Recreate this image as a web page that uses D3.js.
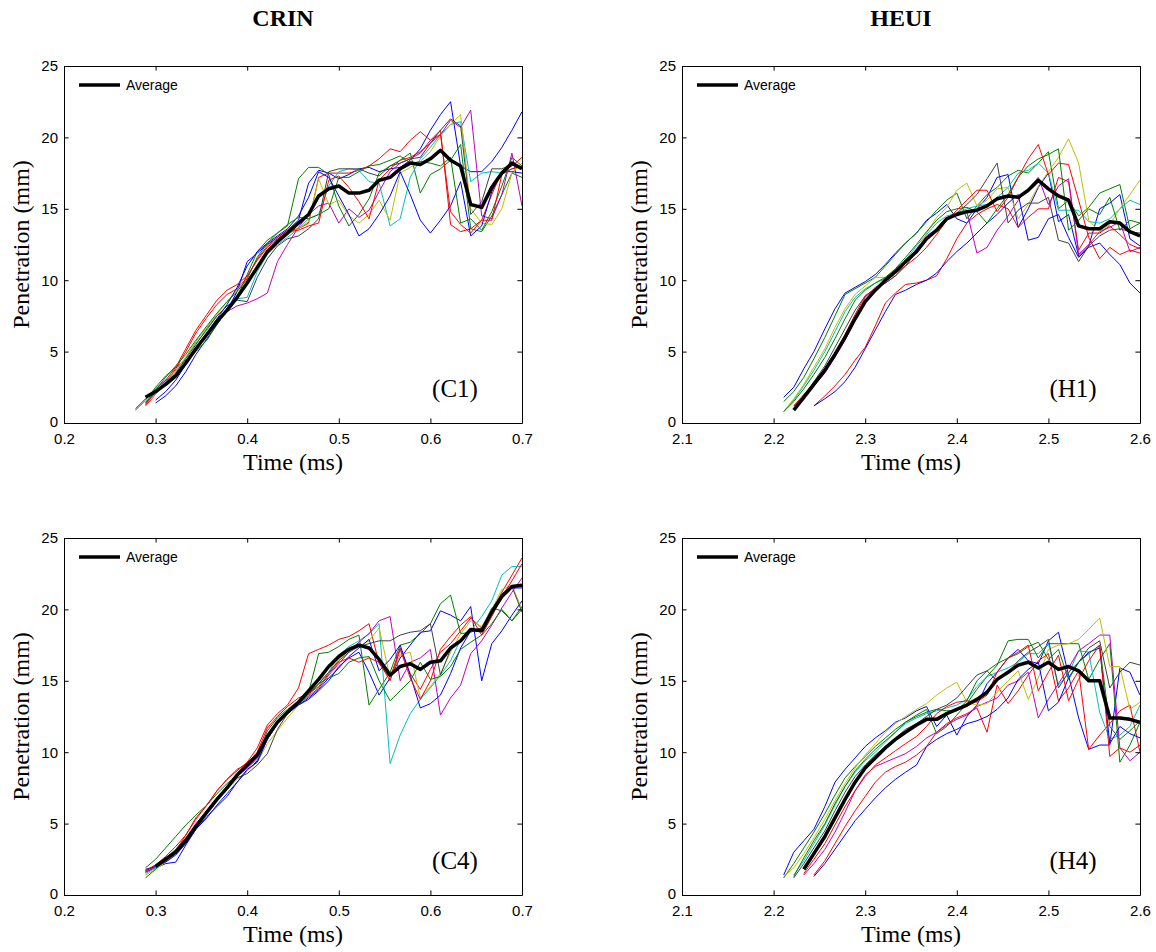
<!DOCTYPE html>
<html>
<head>
<meta charset="utf-8">
<script src="https://cdn.jsdelivr.net/npm/d3@7"></script>
<style>
body { margin: 0; background: #fff; overflow: hidden; }
</style>
</head>
<body>
<svg id="fig" width="1156" height="952"></svg>
<script>
// frame times (ms), camera at 90 kfps
var tCrin1 = [0.278,0.289,0.300,0.311,0.322,0.333,0.344,0.356,0.367,0.378,0.389,0.400,0.411,0.422,0.433,0.444,0.456,0.467,0.478,0.489,0.500,0.511,0.522,0.533,0.544,0.556,0.567,0.578,0.589,0.600,0.611,0.622,0.633,0.644,0.656,0.667,0.678,0.689,0.700];
var tCrin4 = [0.289,0.300,0.311,0.322,0.333,0.344,0.356,0.367,0.378,0.389,0.400,0.411,0.422,0.433,0.444,0.456,0.467,0.478,0.489,0.500,0.511,0.522,0.533,0.544,0.556,0.567,0.578,0.589,0.600,0.611,0.622,0.633,0.644,0.656,0.667,0.678,0.689,0.700];
var tHeui = [2.211,2.222,2.233,2.244,2.256,2.267,2.278,2.289,2.300,2.311,2.322,2.333,2.344,2.356,2.367,2.378,2.389,2.400,2.411,2.422,2.433,2.444,2.456,2.467,2.478,2.489,2.500,2.511,2.522,2.533,2.544,2.556,2.567,2.578,2.589,2.600];

// penetration (mm) of each injection, C1
var runsC1 = [
  [null,null,1.4,1.9,2.6,3.6,4.8,5.9,6.9,7.9,9.2,11.3,11.9,12.5,13.0,13.5,14.2,16.8,17.7,17.5,17.1,17.4,17.8,17.9,17.6,17.8,17.9,18.4,19.2,20.5,21.6,22.5,18.0,17.6,17.6,18.3,19.3,20.5,21.8],
  [0.9,1.6,2.5,3.3,3.9,4.4,5.0,5.8,6.9,7.9,8.8,10.4,12.0,12.8,13.3,13.8,17.1,17.9,17.9,17.4,15.2,13.8,14.6,15.7,17.5,18.0,18.4,18.9,16.1,17.4,17.8,18.4,19.5,13.6,13.4,14.5,16.0,17.5,17.2],
  [null,1.2,2.0,2.8,3.8,5.0,6.3,7.4,8.3,9.0,9.4,10.2,11.5,12.4,13.0,13.5,13.6,14.0,17.2,17.5,17.5,17.5,17.7,18.0,18.5,19.2,19.0,19.8,20.4,19.8,20.5,13.9,13.4,13.6,14.2,16.0,17.6,18.0,18.6],
  [null,1.5,2.1,2.9,3.7,4.6,5.6,6.5,7.5,8.2,8.7,8.8,10.6,11.8,12.5,13.0,13.6,14.3,14.6,16.6,17.6,17.8,17.7,16.9,16.8,13.8,14.3,17.2,18.5,19.3,20.2,20.9,21.1,16.9,17.5,17.6,17.5,17.8,18.0],
  [1.0,1.7,2.4,3.0,3.3,4.3,5.3,6.3,7.3,7.8,8.2,8.4,8.7,9.1,11.3,12.5,13.7,14.6,15.2,15.4,14.0,15.0,14.4,14.9,16.2,17.6,18.2,18.5,18.9,19.8,20.2,21.2,20.7,21.9,14.5,14.3,16.0,18.9,15.2],
  [null,1.3,2.0,2.8,3.6,4.6,5.7,6.7,7.6,8.5,9.3,10.0,11.0,11.8,12.6,13.2,13.6,14.1,17.1,15.3,15.6,14.5,14.0,14.6,15.6,14.2,17.5,17.9,18.3,19.0,20.1,20.9,21.6,15.0,14.0,13.9,15.0,17.5,18.2],
  [null,1.4,2.1,2.8,3.5,4.5,5.5,6.6,7.5,8.2,8.6,8.5,10.2,11.5,12.4,12.9,13.1,13.6,14.3,17.6,17.8,17.8,17.8,17.5,17.3,18.0,18.2,18.5,18.6,19.6,20.5,21.3,20.8,14.6,15.5,17.8,17.8,18.1,17.9],
  [null,null,1.6,2.2,3.0,4.1,5.2,6.3,7.3,8.3,9.5,11.0,12.0,12.6,13.1,13.6,14.5,15.8,17.6,17.2,15.9,14.6,13.1,13.6,14.6,15.9,17.6,16.0,14.2,13.3,14.2,15.2,16.9,13.1,13.8,16.2,17.6,17.6,17.5],
  [null,1.4,2.3,3.2,4.0,4.8,5.8,6.8,7.7,8.5,9.2,10.1,11.6,12.6,13.3,13.9,14.4,14.3,14.6,15.0,17.2,17.2,17.6,18.0,18.1,18.4,18.7,18.2,18.3,18.2,18.0,18.6,14.0,14.3,13.5,14.8,16.6,18.6,18.0],
  [null,1.3,2.2,3.0,3.9,5.2,6.5,7.6,8.6,9.3,9.7,10.3,11.4,12.3,12.9,13.4,13.5,13.8,14.0,17.0,17.3,16.5,15.5,14.3,17.0,17.8,18.4,18.6,19.0,19.6,20.2,14.8,13.9,13.3,14.2,14.2,17.4,17.8,18.0]
];
var avgC1 = [null,1.8,2.2,2.7,3.3,4.2,5.2,6.2,7.1,7.9,8.8,9.8,10.9,12.0,12.7,13.3,14.0,14.6,15.9,16.4,16.6,16.1,16.1,16.3,17.0,17.2,17.8,18.2,18.1,18.5,19.1,18.4,18.0,15.3,15.1,16.5,17.5,18.2,17.8];

// H1
var runsH1 = [
  [1.8,2.5,3.8,5.0,6.6,8.0,9.1,9.5,9.9,10.4,11.1,11.9,12.6,13.3,14.2,14.7,15.3,14.3,14.0,15.0,15.8,17.2,17.4,13.7,15.0,16.5,17.5,14.1,14.6,11.7,12.4,15.0,15.4,16.0,12.9,12.4],
  [1.5,2.2,3.2,4.5,6.0,7.5,9.0,9.4,9.8,10.2,11.0,11.8,12.6,13.3,14.1,14.9,15.6,16.1,14.3,15.2,16.0,16.5,17.3,17.7,17.5,18.2,19.0,15.0,15.6,14.5,15.1,16.1,16.4,16.7,13.6,14.0],
  [null,null,null,1.2,1.9,2.6,3.4,4.4,5.3,6.8,8.4,9.1,9.7,9.8,10.0,10.3,11.5,12.9,14.0,14.6,15.0,15.3,15.0,13.7,14.4,15.0,15.0,17.2,16.9,12.1,13.3,13.3,13.8,13.2,12.5,12.2],
  [0.8,1.6,2.6,3.7,5.0,6.4,7.8,8.8,9.4,9.8,10.1,10.6,11.4,12.4,13.2,14.0,14.5,14.7,15.0,15.2,15.3,15.8,16.5,17.5,17.7,18.2,17.5,14.9,14.9,14.9,14.1,14.0,14.3,15.0,15.6,15.3],
  [null,1.2,1.8,2.6,3.5,4.6,5.8,7.2,8.8,9.5,9.8,10.3,11.2,12.2,13.1,13.6,14.4,14.6,14.8,11.9,12.3,13.5,14.5,15.6,16.4,17.2,15.3,16.6,17.1,11.8,12.5,13.4,13.7,14.1,12.0,12.3],
  [0.8,1.7,2.7,3.9,5.2,6.7,8.0,9.0,9.6,10.2,10.2,10.3,11.0,12.0,13.3,14.4,15.1,16.3,16.8,15.2,15.6,16.4,16.5,14.3,15.3,16.6,17.6,18.6,19.9,18.2,14.2,13.4,13.9,15.0,16.0,17.0],
  [null,1.0,1.9,2.9,4.0,5.3,6.6,7.9,8.9,9.4,9.8,10.3,11.0,12.0,12.9,13.6,14.3,14.7,15.3,16.0,17.1,18.2,14.0,14.9,15.4,15.4,15.8,12.8,12.6,11.3,12.4,13.1,13.5,13.6,13.4,13.3],
  [null,null,null,1.2,1.7,2.2,2.9,3.9,5.2,6.5,7.8,9.0,9.3,9.7,10.0,10.5,11.3,12.0,12.6,13.3,14.0,14.6,15.4,16.0,12.8,13.0,14.3,14.6,13.0,11.6,12.3,12.6,11.8,11.1,9.8,9.1],
  [0.8,1.5,2.4,3.4,4.6,5.9,7.3,8.6,9.3,9.8,10.2,10.8,11.6,12.5,13.4,14.2,14.8,15.0,15.1,14.8,14.0,15.0,16.0,17.2,18.0,18.5,18.8,19.2,13.5,14.2,15.0,14.6,15.8,13.5,14.2,14.0],
  [null,1.2,2.0,2.8,3.8,4.9,6.2,7.6,8.9,9.4,9.9,10.5,11.0,11.6,12.3,13.2,14.2,14.9,15.6,16.3,16.3,14.8,15.8,17.2,18.5,19.5,17.4,18.2,18.1,15.6,13.0,11.5,12.3,11.8,12.1,11.9]
];
var avgH1 = [null,0.9,1.8,2.7,3.7,4.8,6.0,7.3,8.5,9.3,10.0,10.6,11.3,12.0,12.9,13.5,14.3,14.6,14.8,14.9,15.2,15.7,15.9,15.8,16.3,17.0,16.4,15.9,15.6,13.8,13.6,13.6,14.1,14.0,13.4,13.1];

// C4
var runsC4 = [
  [1.6,1.9,2.2,2.3,3.5,4.6,5.5,6.2,6.9,7.9,8.7,9.4,10.9,12.0,12.7,13.3,13.7,14.3,15.0,16.0,16.6,17.0,15.6,14.0,15.2,16.6,17.5,18.4,18.5,19.9,19.6,19.2,20.2,15.0,17.6,18.5,19.6,20.6],
  [1.9,2.5,3.3,4.1,4.9,5.6,6.3,7.1,7.8,8.4,9.0,9.7,11.5,12.4,13.0,13.6,14.2,16.9,17.0,17.4,17.9,18.2,13.3,14.4,15.6,17.5,17.7,18.3,19.0,20.4,21.0,18.3,18.4,18.7,20.1,19.9,19.2,20.0],
  [1.7,2.1,2.7,3.4,4.2,5.3,6.3,7.3,8.1,8.7,9.3,10.3,11.9,12.7,13.3,14.5,16.9,17.2,17.5,17.9,18.1,18.5,19.0,16.2,15.2,17.3,15.5,14.4,15.8,17.0,17.6,18.5,19.4,18.7,19.8,21.2,22.4,23.6],
  [1.5,1.9,2.4,3.0,3.9,4.9,5.9,6.8,7.6,8.3,8.9,9.5,11.0,12.0,12.8,13.4,14.1,14.8,15.6,16.8,17.4,17.8,18.3,19.0,9.2,11.2,12.7,13.7,14.5,15.4,16.4,17.9,18.5,19.5,20.6,22.4,23.0,23.0],
  [1.6,2.0,2.6,3.2,4.0,5.0,5.9,6.8,7.6,8.3,8.9,9.6,11.1,12.0,12.7,13.4,13.9,14.5,15.4,16.2,17.0,17.7,18.3,19.2,19.5,15.0,16.3,16.6,17.2,12.6,13.8,14.7,16.9,17.8,18.9,20.1,21.2,22.2],
  [1.4,1.8,2.3,2.9,3.8,4.8,5.8,6.6,7.4,8.1,8.7,9.3,10.6,11.5,12.4,13.3,14.0,14.8,15.6,16.5,17.1,17.4,17.8,18.7,15.2,16.8,17.0,13.8,14.6,15.5,17.0,18.3,19.2,18.8,20.0,21.4,21.7,20.0],
  [1.7,2.0,2.5,3.1,3.8,4.8,5.8,6.7,7.5,8.2,8.5,9.1,9.9,11.6,12.7,13.4,14.1,14.8,15.6,16.4,17.0,17.4,17.6,17.8,17.8,18.2,18.4,18.5,19.0,15.4,17.2,17.9,18.5,18.7,20.0,21.1,21.6,19.8],
  [1.8,2.0,2.3,2.8,3.6,4.6,5.4,6.3,7.1,7.9,8.8,9.3,10.9,12.0,12.8,13.3,13.8,14.4,15.2,15.9,16.7,17.3,17.9,15.7,16.5,17.5,15.4,13.1,13.4,14.0,15.5,17.3,18.5,18.6,19.8,21.0,21.5,21.5],
  [1.2,1.8,2.5,3.2,4.0,4.9,5.8,6.7,7.6,8.3,9.0,9.8,11.2,12.1,12.8,13.4,14.0,14.8,15.2,15.5,16.3,16.6,16.7,15.0,13.6,14.3,15.0,16.3,15.1,15.3,16.0,17.2,17.7,18.2,19.0,20.0,19.2,20.2],
  [1.7,2.1,2.6,3.1,4.2,5.4,6.3,7.3,8.1,8.8,9.2,10.0,11.7,12.5,13.2,13.8,14.1,14.6,15.5,16.3,16.6,16.3,16.6,16.3,15.0,17.2,15.2,13.7,15.0,17.2,18.1,18.9,19.5,18.2,19.5,20.9,22.0,23.2]
];
var avgC4 = [null,2.0,2.5,3.0,3.8,4.8,5.8,6.7,7.5,8.4,9.1,9.8,11.1,12.1,12.8,13.5,14.3,15.1,16.0,16.7,17.2,17.5,17.3,16.5,15.4,16.0,16.2,15.8,16.3,16.4,17.3,17.8,18.6,18.5,19.8,20.9,21.6,21.7];

// H4
var runsH4 = [
  [1.4,3.0,3.8,4.6,6.2,7.9,8.8,9.6,10.4,11.0,11.5,12.1,12.4,12.9,13.2,11.8,12.6,11.2,12.5,13.3,14.8,15.6,16.6,17.2,16.4,16.2,17.8,18.4,15.4,12.4,10.2,10.5,10.5,15.9,15.6,14.0],
  [1.2,2.2,3.3,4.4,5.7,7.0,8.2,9.0,9.7,10.4,11.0,11.6,12.1,12.6,13.0,11.3,11.8,12.6,13.4,14.4,15.3,16.1,17.8,17.9,17.9,16.6,17.6,17.6,17.6,17.6,15.1,16.5,17.6,9.3,10.5,12.1],
  [null,null,null,1.4,2.4,3.6,4.8,5.9,6.9,7.9,8.6,9.0,9.3,9.8,10.4,11.4,12.0,12.4,12.7,13.1,11.4,14.7,13.4,14.3,15.4,16.4,16.9,13.6,14.5,15.7,10.2,11.2,12.0,12.9,13.3,10.0],
  [null,1.4,2.4,3.6,4.9,6.3,7.6,8.6,9.4,10.0,10.7,11.4,12.0,12.4,12.7,12.9,13.1,13.3,13.7,14.6,15.3,15.6,15.9,16.3,16.9,16.9,17.6,14.7,15.5,17.1,17.0,12.8,10.9,11.2,11.8,13.3],
  [null,null,1.4,2.2,3.2,4.4,5.8,7.3,8.4,9.0,9.3,9.6,9.9,10.4,11.0,11.4,11.9,12.3,12.6,13.2,13.5,13.8,14.7,15.0,15.6,12.4,13.7,14.8,15.9,17.1,17.6,18.2,18.2,10.3,9.4,10.0],
  [1.3,1.9,2.9,4.0,5.3,6.6,7.8,8.9,9.8,10.6,11.4,12.0,12.5,13.0,13.4,14.0,14.5,14.9,13.5,13.3,13.4,14.2,15.0,15.7,13.7,15.2,17.2,17.5,17.6,17.9,18.6,19.4,16.0,16.0,13.0,13.5],
  [null,1.2,2.2,3.3,4.5,5.9,7.2,8.3,9.1,9.8,10.4,11.0,11.6,12.0,12.5,13.0,13.3,13.8,14.6,15.4,15.7,15.0,15.6,16.4,17.0,17.4,17.9,14.5,15.6,16.3,17.3,17.8,14.5,15.6,16.3,16.1],
  [null,null,null,1.3,2.2,3.2,4.2,5.2,6.0,6.8,7.5,8.1,8.6,9.1,10.4,10.9,11.3,11.6,12.0,12.2,12.5,13.0,13.8,15.1,15.8,16.3,12.9,13.5,15.2,16.3,17.0,17.3,10.6,11.8,11.3,11.0],
  [null,1.3,2.6,3.8,5.0,6.4,7.6,8.7,9.5,10.2,10.8,11.4,12.1,12.5,12.8,13.0,12.9,12.9,13.6,15.0,15.7,16.2,16.6,16.9,17.4,17.7,16.5,17.2,15.1,16.3,16.9,17.5,11.8,10.9,11.5,12.2],
  [null,null,1.5,2.5,3.6,4.9,6.2,7.3,8.3,9.1,9.6,10.1,10.6,11.1,11.8,12.7,13.2,13.5,13.6,13.5,14.0,15.6,16.6,17.0,17.5,14.3,15.6,16.8,13.6,15.1,16.4,17.5,9.7,10.3,10.0,10.5]
];
var avgH4 = [null,null,1.8,2.9,4.1,5.4,6.7,7.9,8.9,9.6,10.3,10.9,11.4,11.9,12.3,12.3,12.7,13.0,13.3,13.7,14.2,15.1,15.6,16.1,16.3,15.9,16.3,15.8,16.0,15.7,15.0,15.0,12.4,12.4,12.3,12.1];

// matlab default colour order, cycled
var runColors = ['#0000ff','#008000','#ff0000','#00bfbf','#bf00bf','#bfbf00','#404040','#0000ff','#008000','#ff0000'];
var xTicksCrin = [0.2,0.3,0.4,0.5,0.6,0.7];
var xTicksHeui = [2.1,2.2,2.3,2.4,2.5,2.6];
var yTicks = [0,5,10,15,20,25];
var colTitles = ['CRIN','HEUI'];
var panelTags = ['(C1)','(H1)','(C4)','(H4)'];
var legendLabel = 'Average';
var xLabel = 'Time (ms)';
var yLabel = 'Penetration (mm)';

var svg = d3.select('#fig');
svg.append('rect').attr('width',1156).attr('height',952).attr('fill','#fff');

var W = 458, H = 357;
var panels = [
  {left: 64,  top: 66,  t: tCrin1, runs: runsC1, avg: avgC1, xd: [0.2,0.7], xt: xTicksCrin, tag: panelTags[0]},
  {left: 682, top: 66,  t: tHeui,  runs: runsH1, avg: avgH1, xd: [2.1,2.6], xt: xTicksHeui, tag: panelTags[1]},
  {left: 64,  top: 538, t: tCrin4, runs: runsC4, avg: avgC4, xd: [0.2,0.7], xt: xTicksCrin, tag: panelTags[2]},
  {left: 682, top: 538, t: tHeui,  runs: runsH4, avg: avgH4, xd: [2.1,2.6], xt: xTicksHeui, tag: panelTags[3]}
];

var serif = '"Liberation Serif", "Times New Roman", serif';
var sans = '"Liberation Sans", Arial, sans-serif';

function styleAxis(g) {
  g.attr('font-family', sans).attr('font-size', 15);
  g.selectAll('path.domain').attr('stroke', '#000');
  g.selectAll('.tick line').attr('stroke', '#000');
  g.selectAll('.tick text').attr('fill', '#000');
}

function drawPanel(p, idx) {
  var x = d3.scaleLinear().domain(p.xd).range([p.left, p.left + W]);
  var y = d3.scaleLinear().domain([0, 25]).range([p.top + H, p.top]);
  var g = svg.append('g');

  g.append('clipPath').attr('id', 'clip' + idx)
    .append('rect').attr('x', p.left).attr('y', p.top).attr('width', W).attr('height', H);

  var line = d3.line()
    .defined(function(d) { return d[1] != null; })
    .x(function(d) { return x(d[0]); })
    .y(function(d) { return y(d[1]); });

  var plot = g.append('g').attr('clip-path', 'url(#clip' + idx + ')');
  p.runs.forEach(function(run, i) {
    plot.append('path')
      .datum(p.t.map(function(tt, k) { return [tt, run[k]]; }))
      .attr('d', line)
      .attr('fill', 'none')
      .attr('stroke', runColors[i])
      .attr('stroke-width', 1);
  });
  plot.append('path')
    .datum(p.t.map(function(tt, k) { return [tt, p.avg[k]]; }))
    .attr('d', line)
    .attr('fill', 'none')
    .attr('stroke', '#000')
    .attr('stroke-width', 3.5)
    .attr('stroke-linejoin', 'round');

  // box with inward ticks on all sides
  g.append('g').attr('transform', 'translate(0,' + (p.top + H) + ')')
    .call(d3.axisBottom(x).tickValues(p.xt).tickFormat(d3.format('.1f')).tickSizeInner(-4.6).tickSizeOuter(0).tickPadding(10))
    .call(styleAxis);
  g.append('g').attr('transform', 'translate(0,' + p.top + ')')
    .call(d3.axisTop(x).tickValues(p.xt).tickFormat('').tickSizeInner(-4.6).tickSizeOuter(0))
    .call(styleAxis);
  g.append('g').attr('transform', 'translate(' + p.left + ',0)')
    .call(d3.axisLeft(y).tickValues(yTicks).tickFormat(d3.format('d')).tickSizeInner(-4.6).tickSizeOuter(0).tickPadding(6))
    .call(styleAxis);
  g.append('g').attr('transform', 'translate(' + (p.left + W) + ',0)')
    .call(d3.axisRight(y).tickValues(yTicks).tickFormat('').tickSizeInner(-4.6).tickSizeOuter(0))
    .call(styleAxis);
  // lift the "0" a touch so it clears the first x label
  g.selectAll('.tick text').filter(function(d) { return d === 0; }).attr('dy', '0.2em');

  // legend
  g.append('line')
    .attr('x1', p.left + 15).attr('x2', p.left + 56)
    .attr('y1', p.top + 19).attr('y2', p.top + 19)
    .attr('stroke', '#000').attr('stroke-width', 3.5);
  g.append('text')
    .attr('x', p.left + 62).attr('y', p.top + 19)
    .attr('dy', '0.35em')
    .attr('font-family', sans).attr('font-size', 14)
    .text(legendLabel);

  // labels
  g.append('text')
    .attr('x', p.left + W / 2).attr('y', p.top + H + 47)
    .attr('text-anchor', 'middle')
    .attr('font-family', serif).attr('font-size', 24)
    .text(xLabel);
  g.append('text')
    .attr('transform', 'translate(' + (p.left - 43) + ',' + (p.top + H / 2) + ') rotate(-90)')
    .attr('text-anchor', 'middle')
    .attr('dy', '0.35em')
    .attr('font-family', serif).attr('font-size', 24)
    .text(yLabel);
  g.append('text')
    .attr('x', p.left + W - 67).attr('y', p.top + H - 35)
    .attr('text-anchor', 'middle')
    .attr('dy', '0.35em')
    .attr('font-family', serif).attr('font-size', 25)
    .text(p.tag);
}

panels.forEach(drawPanel);

// column titles
colTitles.forEach(function(s, i) {
  svg.append('text')
    .attr('x', panels[i].left + W / 2 - 10).attr('y', 26)
    .attr('text-anchor', 'middle')
    .attr('font-family', serif).attr('font-size', 24).attr('font-weight', 'bold')
    .text(s);
});
</script>
</body>
</html>
